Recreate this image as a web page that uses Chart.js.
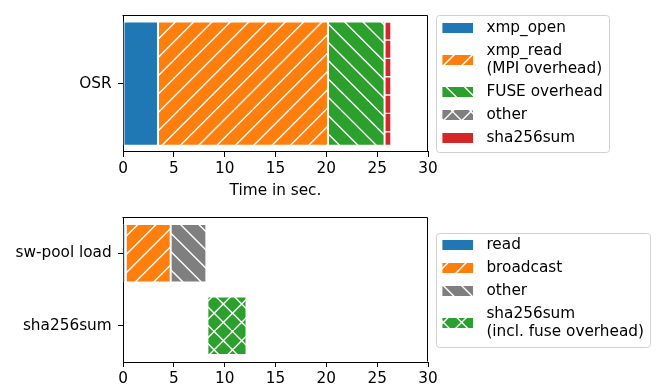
<!DOCTYPE html>
<html>
<head>
<meta charset="utf-8">
<script src="https://cdn.jsdelivr.net/npm/chart.js@4/dist/chart.umd.min.js"></script>
<style>
  html, body { margin: 0; padding: 0; background: #fff; }
  canvas { display: block; }
</style>
</head>
<body>
<canvas id="osr" width="656" height="200"></canvas>
<canvas id="pool" width="656" height="191"></canvas>
<script>
// ---- OSR run: phases laid end to end (seconds) ----
const osrCategories = ['OSR'];
const osrPhases = ['xmp_open', ['xmp_read', '(MPI overhead)'], 'FUSE overhead', 'other', 'sha256sum'];
const osrDurations = [3.44, 16.72, 5.57, 0, 0.66];

// ---- sw-pool run ----
const poolCategories = ['sw-pool load', 'sha256sum'];
const loadPhases = ['read', 'broadcast', 'other'];
const loadDurations = [0.27, 4.42, 3.51];
const shaLabel = ['sha256sum', '(incl. fuse overhead)'];
const shaStart = 8.3;
const shaDuration = 3.85;

// ---- shared x axis ----
const xMin = 0, xMax = 30, xStep = 5;
const xTitle = 'Time in sec.';

const COLORS = { blue: '#1f77b4', orange: '#ff7f0e', green: '#2ca02c', red: '#d62728', gray: '#7f7f7f' };
const FONT = '"DejaVu Sans", "Liberation Sans", sans-serif';
const FS = 15.3;

Chart.defaults.font.family = FONT;
Chart.defaults.font.size = FS;
Chart.defaults.color = '#000';

// White hatch lines on a coloured tile, anchored to page coordinates so that
// both canvases share the same hatch phase.
const TILE = 110, STEP = TILE / 6;
function hatch(ctx, color, kind, pageTop) {
  const c = document.createElement('canvas');
  c.width = c.height = TILE;
  const g = c.getContext('2d');
  g.fillStyle = color;
  g.fillRect(0, 0, TILE, TILE);
  g.strokeStyle = '#fff';
  g.lineWidth = 1.4;
  g.beginPath();
  if (kind === '/' || kind === 'x') {
    for (let k = -1; k <= 13; k++) { const x0 = 14 + k * STEP; g.moveTo(x0, 0); g.lineTo(x0 - TILE, TILE); }
  }
  if (kind === '\\' || kind === 'x') {
    for (let k = -7; k <= 7; k++) { const x0 = 11 + k * STEP; g.moveTo(x0, 0); g.lineTo(x0 + TILE, TILE); }
  }
  if (kind === '-') {
    for (let k = 0; k < 6; k++) { const y = 3.4 + k * STEP; g.moveTo(0, y); g.lineTo(TILE, y); }
  }
  g.stroke();
  const p = ctx.createPattern(c, 'repeat');
  p.setTransform(new DOMMatrix([1, 0, 0, 1, 0, -pageTop]));
  return p;
}

// Consecutive [start, end] spans from a list of durations
function spans(durations, offset) {
  let t = offset || 0;
  return durations.map(d => { const s = [t, t + d]; t += d; return s; });
}

// Closes the axes box on the top and right sides
const axesFrame = {
  id: 'axesFrame',
  afterDraw(chart) {
    const { ctx, chartArea: a } = chart;
    const l = Math.round(a.left) - 0.5, r = Math.round(a.right) - 0.5;
    const t = Math.round(a.top) + 0.5, b = Math.round(a.bottom) - 0.5;
    ctx.save();
    ctx.strokeStyle = '#000';
    ctx.lineWidth = 1;
    ctx.beginPath();
    ctx.moveTo(l, t); ctx.lineTo(r, t); ctx.lineTo(r, b);
    ctx.stroke();
    ctx.restore();
  }
};

// Framed legend placed to the right of the axes, vertically centred
const boxLegend = {
  id: 'boxLegend',
  afterDraw(chart, args, o) {
    if (!o || !o.items) return;
    const { ctx, chartArea: a } = chart;
    ctx.save();
    ctx.font = FS + 'px ' + FONT;
    const lines = o.items.map(it => Array.isArray(it.label) ? it.label : [it.label]);
    const maxW = Math.max(...lines.flat().map(t => ctx.measureText(t).width));
    const extra = lines.flat().length - lines.length;
    const height = o.padTop + (lines.length - 1) * o.entryGap + extra * o.lineGap + o.padBottom;
    const left = a.right + o.gap;
    const textX = left + o.swatchInset + o.swatchW + o.textGap;
    const width = textX - left + maxW + o.padRight;
    const top = (a.top + a.bottom) / 2 - height / 2;

    const x0 = Math.round(left) + 0.5, y0 = Math.round(top) + 0.5;
    const w = Math.round(width), h = Math.round(height), r = 3;
    ctx.beginPath();
    ctx.moveTo(x0 + r, y0);
    ctx.arcTo(x0 + w, y0, x0 + w, y0 + h, r);
    ctx.arcTo(x0 + w, y0 + h, x0, y0 + h, r);
    ctx.arcTo(x0, y0 + h, x0, y0, r);
    ctx.arcTo(x0, y0, x0 + w, y0, r);
    ctx.closePath();
    ctx.fillStyle = 'rgba(255,255,255,0.8)';
    ctx.fill();
    ctx.strokeStyle = '#d0d0d0';
    ctx.lineWidth = 1;
    ctx.stroke();

    let y = top + o.padTop;
    ctx.textBaseline = 'middle';
    ctx.textAlign = 'left';
    o.items.forEach((it, i) => {
      const ls = lines[i];
      const mid = y + (ls.length - 1) * o.lineGap / 2;
      ctx.fillStyle = it.fill;
      ctx.fillRect(left + o.swatchInset, Math.round(mid - o.swatchH / 2 + o.swatchDy), o.swatchW, o.swatchH);
      ctx.fillStyle = '#000';
      ls.forEach((t, j) => ctx.fillText(t, textX, y + j * o.lineGap));
      y += (ls.length - 1) * o.lineGap + o.entryGap;
    });
    ctx.restore();
  }
};

const legendLayout = {
  gap: 8.4, swatchInset: 6, swatchW: 30.6, swatchH: 10, swatchDy: 0, textGap: 13.4,
  padRight: 6.7, padTop: 12.7, entryGap: 23, lineGap: 17.8, padBottom: 14.3
};

function xScale(height, withTitle) {
  return {
    type: 'linear',
    min: xMin, max: xMax,
    ticks: { stepSize: xStep, padding: 3, font: { size: FS }, color: '#000' },
    grid: { drawOnChartArea: false, drawTicks: true, tickLength: 5, tickColor: '#000', tickWidth: 1 },
    border: { display: true, color: '#000', width: 1 },
    title: { display: withTitle, text: xTitle, font: { size: FS }, color: '#000', padding: { top: 0, bottom: 0 } },
    afterFit(s) { s.height = height; }
  };
}
function yScale() {
  return {
    type: 'category',
    ticks: { padding: 6.3, font: { size: FS }, color: '#000' },
    grid: { offset: false, drawOnChartArea: false, drawTicks: true, tickLength: 5, tickColor: '#000', tickWidth: 1 },
    border: { display: true, color: '#000', width: 1 },
    afterFit(s) { s.width = 123; }
  };
}

function baseOptions(padTop, xHeight, withTitle, items) {
  return {
    indexAxis: 'y',
    responsive: false,
    animation: false,
    devicePixelRatio: 1,
    layout: { padding: { top: padTop, left: 0, right: 656 - 428, bottom: 0 } },
    scales: { x: xScale(xHeight, withTitle), y: yScale() },
    plugins: {
      legend: { display: false },
      tooltip: { enabled: false },
      boxLegend: Object.assign({ items }, legendLayout)
    }
  };
}

// ---- top chart: OSR ----
(function () {
  const canvas = document.getElementById('osr');
  const ctx = canvas.getContext('2d');
  const top = canvas.offsetTop;
  const fills = [
    COLORS.blue,
    hatch(ctx, COLORS.orange, '/', top),
    hatch(ctx, COLORS.green, '\\', top),
    hatch(ctx, COLORS.gray, 'x', top),
    hatch(ctx, COLORS.red, '-', top)
  ];
  const s = spans(osrDurations);
  const datasets = osrPhases.map((name, i) => ({
    label: Array.isArray(name) ? name.join(' ') : name,
    data: [s[i]],
    backgroundColor: fills[i],
    borderColor: '#fff',
    borderWidth: 1,
    borderSkipped: false,
    grouped: false,
    barPercentage: 0.91,
    categoryPercentage: 1
  }));
  const items = osrPhases.map((name, i) => ({ label: name, fill: fills[i] }));
  new Chart(ctx, {
    type: 'bar',
    data: { labels: osrCategories, datasets },
    options: baseOptions(7, 48, true, items),
    plugins: [axesFrame, boxLegend]
  });
})();

// ---- bottom chart: sw-pool ----
(function () {
  const canvas = document.getElementById('pool');
  const ctx = canvas.getContext('2d');
  const top = canvas.offsetTop;
  const loadFills = [
    COLORS.blue,
    hatch(ctx, COLORS.orange, '/', top),
    hatch(ctx, COLORS.gray, '\\', top)
  ];
  const shaFill = hatch(ctx, COLORS.green, 'x', top);
  const s = spans(loadDurations);
  const common = {
    borderColor: '#fff', borderWidth: 1, borderSkipped: false,
    grouped: false, barPercentage: 0.81, categoryPercentage: 1
  };
  const datasets = loadPhases.map((name, i) => Object.assign({
    label: name,
    data: [s[i], null],
    backgroundColor: loadFills[i]
  }, common));
  datasets.push(Object.assign({
    label: shaLabel.join(' '),
    data: [null, [shaStart, shaStart + shaDuration]],
    backgroundColor: shaFill
  }, common));
  const items = loadPhases.map((name, i) => ({ label: name, fill: loadFills[i] }))
    .concat([{ label: shaLabel, fill: shaFill }]);
  new Chart(ctx, {
    type: 'bar',
    data: { labels: poolCategories, datasets },
    options: baseOptions(17, 29, false, items),
    plugins: [axesFrame, boxLegend]
  });
})();
</script>
</body>
</html>
